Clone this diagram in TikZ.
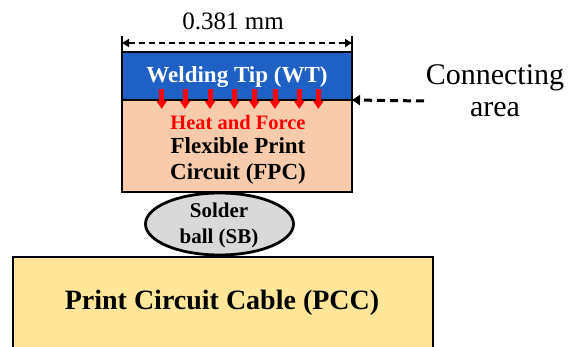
\documentclass[tikz,border=0pt]{standalone}
\usepackage{fontspec}
\setmainfont{Liberation Serif}
\usetikzlibrary{arrows.meta,shapes.geometric}
\definecolor{wtblue}{HTML}{1F60C4}
\definecolor{fpcpeach}{HTML}{F8CBAD}
\definecolor{sbgray}{HTML}{D9D9D9}
\definecolor{pccyellow}{HTML}{FFE699}
\definecolor{heatred}{HTML}{FF0000}
\tikzset{
  box/.style={draw=black, line width=2.8pt},
  lbl/.style={font=\bfseries\fontsize{23}{26}\selectfont, inner sep=0pt},
  heatarrow/.style={-{Triangle[width=10pt,length=8pt]}, line width=5pt, draw=heatred, fill=heatred},
  dimline/.style={dashed, dash pattern=on 6pt off 4pt, line width=2pt},
}
\begin{document}
\begin{tikzpicture}[x=1pt,y=-1pt]
\useasboundingbox (0,0) rectangle (571,347);
% PCC
\fill[pccyellow] (13,257) rectangle (433,350);
\draw[box] (13,350) -- (13,257) -- (433,257) -- (433,350);
\node[lbl, font=\bfseries\fontsize{28}{30}\selectfont] (pcc) at (222,303) {Print Circuit Cable (PCC)};
% solder ball
\node[ellipse, draw=black, line width=2.8pt, fill=sbgray, minimum width=148pt, minimum height=62pt, inner sep=0pt] (sb) at (219.5,224) {};
\node[lbl, align=center, font=\bfseries\fontsize{21}{26}\selectfont] (sbt) at (219,225) {Solder\\ball (SB)};
% FPC + WT
\fill[wtblue] (122,52) rectangle (352,100);
\fill[fpcpeach] (122,100) rectangle (352,192);
\coordinate (c1) at (352,100);
\draw[box] (122,52) rectangle (352,192);
\draw[line width=2.8pt] (122,100) -- (c1);
\node[lbl, text=white] (wt) at (237,77) {Welding Tip (WT)};
\node[lbl, text=heatred, font=\bfseries\fontsize{20.5}{22}\selectfont] (heat) at (238,122) {Heat and Force};
\node[lbl, align=center] (fpc) at (238,160.5) {Flexible Print\\Circuit (FPC)};
% heat arrows
\foreach \i/\xx in {1/161.7,2/185,3/210,4/234.3,5/254.3,6/275,7/299.3,8/318.3}{
  \coordinate (h\i a) at (\xx,89);
  \coordinate (h\i b) at (\xx,109);
  \draw[heatarrow] (h\i a) -- (h\i b);
}
% dimension
\coordinate (dl) at (122,43);
\coordinate (dr) at (352,43);
\draw[line width=1.4pt] (122,36) -- (122,51) (352,36) -- (352,51);
\draw[dimline, {Triangle[width=8pt,length=7pt]}-{Triangle[width=8pt,length=7pt]}] (dl) -- (dr);
\node[inner sep=0pt, font=\fontsize{25}{27}\selectfont] (dim) at (233,21) {0.381 mm};
% connecting area
\coordinate (ca) at (424,101);
\draw[line width=3pt, dash pattern=on 8pt off 5pt, -{Triangle[width=10pt,length=8pt]}] (ca) -- (c1);
\node[inner sep=0pt, align=center, font=\fontsize{30}{32}\selectfont] (cat) at (495,91) {Connecting\\area};
\end{tikzpicture}
\end{document}
